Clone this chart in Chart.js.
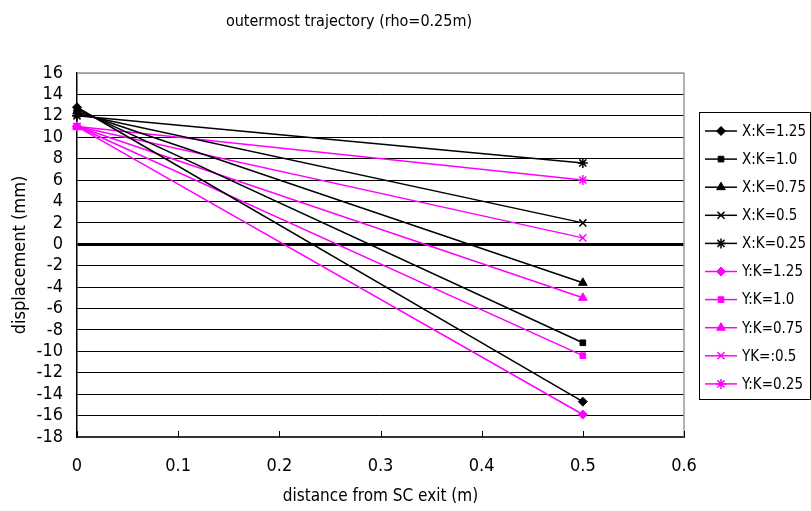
<!DOCTYPE html>
<html>
<head>
<meta charset="utf-8">
<script src="https://cdn.jsdelivr.net/npm/chart.js@4.4.0/dist/chart.umd.min.js"></script>
<style>
    html, body { margin: 0; padding: 0; background: #fff; }
    #wrap { width: 811px; height: 511px; position: relative; }
</style>
</head>
<body>
<div id="wrap"><canvas id="grafic" width="811" height="511"></canvas></div>
<script>
"use strict";

// distance from SC exit (m)
let distances = [0, 0.5];

// X plane
let xK125 = [12.8, -14.7];
let xK100 = [12.6, -9.2];
let xK075 = [12.4, -3.6];
let xK050 = [12.2, 2.0];
let xK025 = [12.0, 7.6];

// Y plane
let yK125 = [11.0, -15.9];
let yK100 = [11.0, -10.4];
let yK075 = [11.0, -5.0];
let yK050 = [11.0, 0.6];
let yK025 = [11.0, 6.0];

let seriesNames = ['X:K=1.25', 'X:K=1.0', 'X:K=0.75', 'X:K=0.5', 'X:K=0.25',
    'Y:K=1.25', 'Y:K=1.0', 'Y:K=0.75', 'YK=:0.5', 'Y:K=0.25'];
let seriesValues = [xK125, xK100, xK075, xK050, xK025, yK125, yK100, yK075, yK050, yK025];
let yTicks = { min: -18, max: 16, step: 2 };
let xTicks = { min: 0, max: 0.6, step: 0.1 };

let FONT = '"Liberation Sans Narrow", "DejaVu Sans Condensed", "Noto Sans", sans-serif';
let markers = ['rectRot', 'rect', 'triangle', 'crossRot', 'star'];
let markerSize = [4.5, 4, 5, 5, 5];

function makeDataset(i) {
    let color = i < 5 ? '#000000' : '#ff00ff';
    let k = i % 5;
    let pts = distances.map(function (d, j) { return { x: d, y: seriesValues[i][j] }; });
    return {
        label: seriesNames[i],
        data: pts,
        borderColor: color,
        backgroundColor: color,
        borderWidth: 1.5,
        pointStyle: markers[k],
        pointRadius: markerSize[k],
        pointBorderWidth: (k >= 3) ? 1.5 : 1,
        pointBorderColor: color,
        pointBackgroundColor: color,
        clip: false
    };
}

let datasets = [];
for (let i = 0; i < seriesNames.length; i++) {
    datasets.push(makeDataset(i));
}

// title, frame, x tick marks and legend box
let decorations = {
    id: 'decorations',
    afterDraw: function (chart) {
        let ctx = chart.ctx;
        let area = chart.chartArea;
        let xs = chart.scales.x;
        ctx.save();

        ctx.fillStyle = '#000';
        ctx.font = '16px ' + FONT;
        ctx.textAlign = 'center';
        ctx.textBaseline = 'middle';
        ctx.fillText('outermost trajectory (rho=0.25m)', 349, 22);

        // top and right border
        ctx.strokeStyle = '#999';
        ctx.lineWidth = 1.5;
        ctx.beginPath();
        ctx.moveTo(area.left, area.top);
        ctx.lineTo(area.right, area.top);
        ctx.lineTo(area.right, area.bottom);
        ctx.stroke();

        // x tick marks pointing up
        ctx.strokeStyle = '#000';
        ctx.lineWidth = 1;
        for (let v = xTicks.min; v <= xTicks.max + 1e-9; v += xTicks.step) {
            let px = Math.round(xs.getPixelForValue(v)) + 0.5;
            ctx.beginPath();
            ctx.moveTo(px, area.bottom);
            ctx.lineTo(px, area.bottom - 6);
            ctx.stroke();
        }

        // legend
        let bx = 699, by = 112, bw = 111, bh = 287;
        ctx.strokeStyle = '#000';
        ctx.lineWidth = 1;
        ctx.strokeRect(bx + 0.5, by + 0.5, bw, bh);
        ctx.font = '15px ' + FONT;
        ctx.textAlign = 'left';
        for (let i = 0; i < chart.data.datasets.length; i++) {
            let ds = chart.data.datasets[i];
            let cy = 131 + i * 28.1;
            ctx.strokeStyle = ds.borderColor;
            ctx.lineWidth = 1.5;
            ctx.beginPath();
            ctx.moveTo(705, cy);
            ctx.lineTo(737, cy);
            ctx.stroke();
            ctx.lineWidth = ds.pointBorderWidth;
            ctx.fillStyle = ds.borderColor;
            Chart.helpers.drawPoint(ctx, {
                pointStyle: ds.pointStyle,
                radius: ds.pointRadius,
                borderWidth: ds.pointBorderWidth,
                rotation: 0
            }, 721, cy);
            ctx.fillStyle = '#000';
            ctx.fillText(ds.label, 742, cy + 1);
        }
        ctx.restore();
    }
};

function main() {
    let canvas = document.getElementById('grafic');
    new Chart(canvas, {
        type: 'line',
        data: { datasets: datasets },
        options: {
            responsive: false,
            animation: false,
            devicePixelRatio: 1,
            layout: { padding: { top: 73, right: 127, bottom: 0, left: 0 } },
            plugins: {
                legend: { display: false },
                title: { display: false },
                tooltip: { enabled: false }
            },
            scales: {
                x: {
                    type: 'linear',
                    min: xTicks.min,
                    max: xTicks.max,
                    afterFit: function (scale) { scale.height = 74; },
                    ticks: {
                        stepSize: xTicks.step,
                        color: '#000',
                        font: { family: FONT, size: 18 },
                        padding: 19,
                        maxRotation: 0,
                        autoSkip: false,
                        callback: function (v) { return String(Number(v.toFixed(1))); }
                    },
                    grid: { display: false, drawTicks: false },
                    border: { display: true, color: '#333', width: 2 },
                    title: {
                        display: true,
                        text: 'distance from SC exit (m)',
                        color: '#000',
                        font: { family: FONT, size: 17 },
                        padding: { top: 0, bottom: 4 }
                    }
                },
                y: {
                    type: 'linear',
                    min: yTicks.min,
                    max: yTicks.max,
                    afterFit: function (scale) { scale.width = 77; },
                    ticks: {
                        stepSize: yTicks.step,
                        color: '#000',
                        font: { family: FONT, size: 18 },
                        padding: 14,
                        autoSkip: false
                    },
                    grid: {
                        drawTicks: false,
                        color: function (c) {
                            if (c.tick && c.tick.value === yTicks.max) return '#999';
                            return '#000';
                        },
                        lineWidth: function (c) {
                            return (c.tick && c.tick.value === 0) ? 3 : 1;
                        }
                    },
                    border: { display: true, color: '#000', width: 1.5 },
                    title: {
                        display: true,
                        text: 'displacement (mm)',
                        color: '#000',
                        font: { family: FONT, size: 18 },
                        padding: { top: 10, bottom: 0 }
                    }
                }
            }
        },
        plugins: [decorations]
    });
}

document.addEventListener('DOMContentLoaded', main);
</script>
</body>
</html>
